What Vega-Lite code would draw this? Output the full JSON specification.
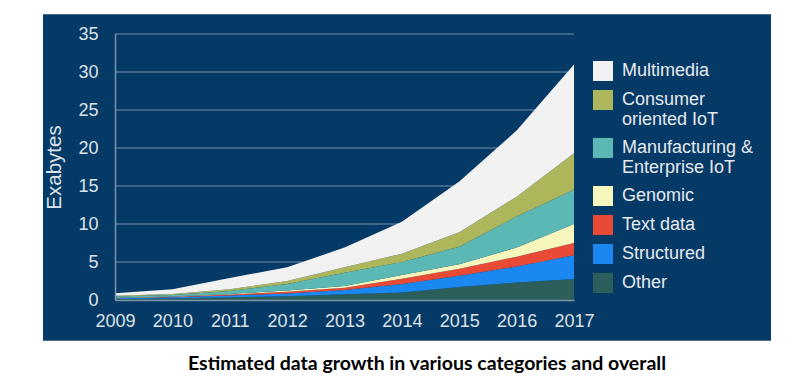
{
  "$schema": "https://vega.github.io/schema/vega-lite/v6.json",
  "width": 459,
  "height": 266,
  "padding": {"left": 42, "top": 14, "right": 30, "bottom": 10},
  "background": "white",
  "config": {
    "view": {"stroke": null},
    "axis": {"labelFont": "Liberation Sans", "labelFontSize": 18, "labelColor": "#dde2e9", "titleFont": "Liberation Sans", "titleColor": "#dde2e9", "titleFontWeight": "normal"}
  },
  "title": {
    "text": "Estimated data growth in various categories and overall",
    "orient": "bottom",
    "anchor": "middle",
    "frame": "bounds",
    "font": "Lato",
    "fontSize": 19.5,
    "fontWeight": "bold",
    "color": "black",
    "offset": 14,
    "dx": 20
  },
  "datasets": {
    "growth": [
      {"year": 2009, "category": "Other", "rank": 1, "value": 0.12},
      {"year": 2009, "category": "Structured", "rank": 2, "value": 0.10},
      {"year": 2009, "category": "Text data", "rank": 3, "value": 0.05},
      {"year": 2009, "category": "Genomic", "rank": 4, "value": 0.03},
      {"year": 2009, "category": "Manufacturing & Enterprise IoT", "rank": 5, "value": 0.15},
      {"year": 2009, "category": "Consumer oriented IoT", "rank": 6, "value": 0.10},
      {"year": 2009, "category": "Multimedia", "rank": 7, "value": 0.35},
      {"year": 2010, "category": "Other", "rank": 1, "value": 0.2},
      {"year": 2010, "category": "Structured", "rank": 2, "value": 0.15},
      {"year": 2010, "category": "Text data", "rank": 3, "value": 0.07},
      {"year": 2010, "category": "Genomic", "rank": 4, "value": 0.04},
      {"year": 2010, "category": "Manufacturing & Enterprise IoT", "rank": 5, "value": 0.19},
      {"year": 2010, "category": "Consumer oriented IoT", "rank": 6, "value": 0.15},
      {"year": 2010, "category": "Multimedia", "rank": 7, "value": 0.6},
      {"year": 2011, "category": "Other", "rank": 1, "value": 0.35},
      {"year": 2011, "category": "Structured", "rank": 2, "value": 0.25},
      {"year": 2011, "category": "Text data", "rank": 3, "value": 0.12},
      {"year": 2011, "category": "Genomic", "rank": 4, "value": 0.08},
      {"year": 2011, "category": "Manufacturing & Enterprise IoT", "rank": 5, "value": 0.4},
      {"year": 2011, "category": "Consumer oriented IoT", "rank": 6, "value": 0.2},
      {"year": 2011, "category": "Multimedia", "rank": 7, "value": 1.5},
      {"year": 2012, "category": "Other", "rank": 1, "value": 0.5},
      {"year": 2012, "category": "Structured", "rank": 2, "value": 0.35},
      {"year": 2012, "category": "Text data", "rank": 3, "value": 0.25},
      {"year": 2012, "category": "Genomic", "rank": 4, "value": 0.15},
      {"year": 2012, "category": "Manufacturing & Enterprise IoT", "rank": 5, "value": 0.85},
      {"year": 2012, "category": "Consumer oriented IoT", "rank": 6, "value": 0.4},
      {"year": 2012, "category": "Multimedia", "rank": 7, "value": 1.8},
      {"year": 2013, "category": "Other", "rank": 1, "value": 0.75},
      {"year": 2013, "category": "Structured", "rank": 2, "value": 0.55},
      {"year": 2013, "category": "Text data", "rank": 3, "value": 0.3},
      {"year": 2013, "category": "Genomic", "rank": 4, "value": 0.25},
      {"year": 2013, "category": "Manufacturing & Enterprise IoT", "rank": 5, "value": 1.75},
      {"year": 2013, "category": "Consumer oriented IoT", "rank": 6, "value": 0.7},
      {"year": 2013, "category": "Multimedia", "rank": 7, "value": 2.6},
      {"year": 2014, "category": "Other", "rank": 1, "value": 1.0},
      {"year": 2014, "category": "Structured", "rank": 2, "value": 1.1},
      {"year": 2014, "category": "Text data", "rank": 3, "value": 0.7},
      {"year": 2014, "category": "Genomic", "rank": 4, "value": 0.5},
      {"year": 2014, "category": "Manufacturing & Enterprise IoT", "rank": 5, "value": 1.7},
      {"year": 2014, "category": "Consumer oriented IoT", "rank": 6, "value": 1.1},
      {"year": 2014, "category": "Multimedia", "rank": 7, "value": 4.2},
      {"year": 2015, "category": "Other", "rank": 1, "value": 1.7},
      {"year": 2015, "category": "Structured", "rank": 2, "value": 1.5},
      {"year": 2015, "category": "Text data", "rank": 3, "value": 0.9},
      {"year": 2015, "category": "Genomic", "rank": 4, "value": 0.6},
      {"year": 2015, "category": "Manufacturing & Enterprise IoT", "rank": 5, "value": 2.3},
      {"year": 2015, "category": "Consumer oriented IoT", "rank": 6, "value": 1.9},
      {"year": 2015, "category": "Multimedia", "rank": 7, "value": 6.7},
      {"year": 2016, "category": "Other", "rank": 1, "value": 2.3},
      {"year": 2016, "category": "Structured", "rank": 2, "value": 2.1},
      {"year": 2016, "category": "Text data", "rank": 3, "value": 1.3},
      {"year": 2016, "category": "Genomic", "rank": 4, "value": 1.2},
      {"year": 2016, "category": "Manufacturing & Enterprise IoT", "rank": 5, "value": 4.1},
      {"year": 2016, "category": "Consumer oriented IoT", "rank": 6, "value": 2.6},
      {"year": 2016, "category": "Multimedia", "rank": 7, "value": 8.7},
      {"year": 2017, "category": "Other", "rank": 1, "value": 2.75},
      {"year": 2017, "category": "Structured", "rank": 2, "value": 3.15},
      {"year": 2017, "category": "Text data", "rank": 3, "value": 1.6},
      {"year": 2017, "category": "Genomic", "rank": 4, "value": 2.5},
      {"year": 2017, "category": "Manufacturing & Enterprise IoT", "rank": 5, "value": 4.5},
      {"year": 2017, "category": "Consumer oriented IoT", "rank": 6, "value": 4.8},
      {"year": 2017, "category": "Multimedia", "rank": 7, "value": 11.7}
    ],
    "grid": [{"v": 5}, {"v": 10}, {"v": 15}, {"v": 20}, {"v": 25}, {"v": 30}, {"v": 35}]
  },
  "layer": [
    {
      "data": {"values": [{}]},
      "mark": {"type": "rect", "color": "#063a66", "clip": false},
      "encoding": {
        "x": {
          "datum": 2007.745, "type": "quantitative",
          "axis": {"zindex": 2, "values": [2009, 2010, 2011, 2012, 2013, 2014, 2015, 2016, 2017], "tickCount": 20, "format": "d", "title": null, "grid": false, "ticks": false, "domain": true, "domainColor": "#7f93a8", "domainWidth": 1.5, "labelPadding": 12, "labelFlush": false, "labelOverlap": false}
        },
        "x2": {"datum": 2020.434},
        "y": {
          "datum": -5.36, "type": "quantitative",
          "axis": {"zindex": 2, "values": [0, 5, 10, 15, 20, 25, 30, 35], "tickCount": 20, "title": "Exabytes", "titleFontSize": 20.5, "titlePadding": 13, "grid": false, "ticks": false, "domain": true, "domainColor": "#7f93a8", "domainWidth": 1.5, "labelPadding": 17, "labelOverlap": false, "labelFlush": false}
        },
        "y2": {"datum": 37.59}
      }
    },
    {
      "data": {"name": "grid"},
      "mark": {"type": "rule", "color": "#4f7596", "strokeWidth": 1.5},
      "encoding": {"y": {"field": "v", "type": "quantitative"}}
    },
    {
      "data": {"name": "growth"},
      "mark": {"type": "area", "opacity": 1},
      "encoding": {
        "x": {
          "field": "year", "type": "quantitative",
          "scale": {"domain": [2009, 2017], "nice": false, "zero": false}
        },
        "y": {
          "aggregate": "sum", "field": "value", "type": "quantitative", "stack": "zero",
          "scale": {"domain": [0, 35], "nice": false}
        },
        "order": {"field": "rank", "type": "quantitative"},
        "color": {
          "field": "category", "type": "nominal",
          "scale": {
            "domain": ["Multimedia", "Consumer oriented IoT", "Manufacturing & Enterprise IoT", "Genomic", "Text data", "Structured", "Other"],
            "range": ["#f2f2f2", "#adb65a", "#5bb8b4", "#f7f7bd", "#e84a36", "#1b87f0", "#2c5f5c"]
          },
          "legend": {
            "title": null,
            "orient": "none",
            "legendX": 478,
            "legendY": 27,
            "padding": 0,
            "symbolType": "square",
            "symbolSize": 400,
            "symbolStrokeWidth": 0,
            "symbolOpacity": 1,
            "labelFont": "Liberation Sans",
            "labelFontSize": 18,
            "labelColor": "#e6e9ee",
            "labelOffset": 9,
            "labelLimit": 300,
            "rowPadding": 9,
            "labelExpr": "datum.label == 'Consumer oriented IoT' ? ['Consumer', 'oriented IoT'] : datum.label == 'Manufacturing & Enterprise IoT' ? ['Manufacturing &', 'Enterprise IoT'] : datum.label",
            "encode": {
              "symbols": {"update": {"fill": {"signal": "datum.value === 'Genomic' ? '#dcdc1e' : scale('color', datum.value)"}}},
              "labels": {"update": {"lineHeight": {"value": 19.5}}}
            }
          }
        }
      }
    }
  ]
}
